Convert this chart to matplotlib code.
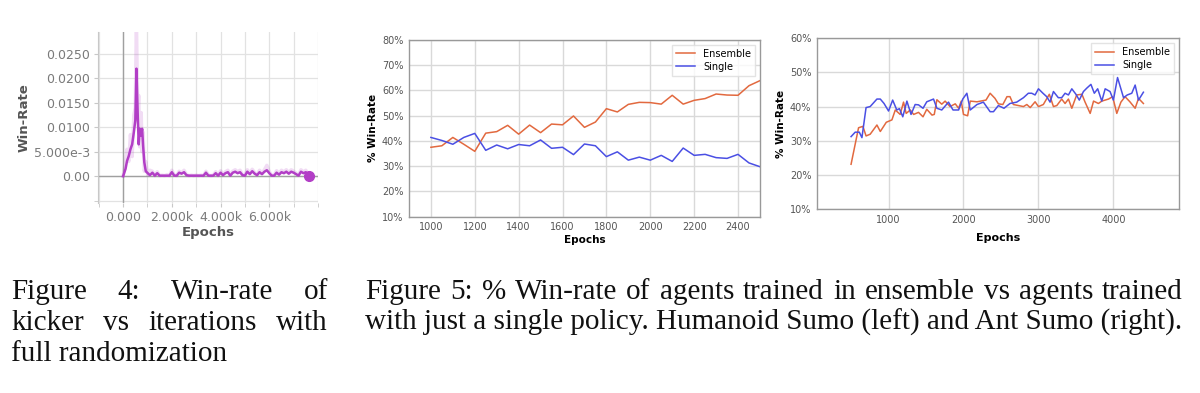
import numpy as np
import matplotlib
matplotlib.use("Agg")
import matplotlib.pyplot as plt
from matplotlib.ticker import FixedLocator, MultipleLocator

# ---- Figure 4: kicker win-rate (tensorboard style) ----
kick_epochs = [0, 100, 160, 230, 300, 370, 440, 500, 546, 600, 640, 680, 740, 780, 820,
               870, 930, 1010, 1100, 1200, 1300, 1400, 1500, 1600, 1700, 1800, 1900,
               2000, 2100, 2200, 2300, 2400, 2500, 2600, 2700, 2800, 2900, 3000, 3100,
               3200, 3300, 3400, 3500, 3600, 3700, 3800, 3900, 4000, 4100, 4200, 4300,
               4400, 4500, 4600, 4700, 4800, 4900, 5000, 5100, 5200, 5300, 5400, 5500,
               5600, 5700, 5800, 5900, 6000, 6100, 6200, 6300, 6400, 6500, 6600, 6700,
               6800, 6900, 7000, 7100, 7200, 7300, 7400, 7500, 7640]
kick_smooth = [0.0, 0.0015, 0.0031, 0.0041, 0.0055, 0.0065, 0.0090, 0.0114, 0.0220, 0.0124,
               0.0065, 0.0097, 0.0083, 0.0097, 0.0062, 0.0028, 0.0010, 0.0006, 0.0002,
               0.0007, 0.0001, 0.0006, 0.0001, 0.0001, 0.0001, 0.0001, 0.0001, 0.0008,
               0.0001, 0.0001, 0.0007, 0.0005, 0.0008, 0.0002, 0.0001, 0.0001, 0.0001,
               0.0001, 0.0001, 0.0001, 0.0001, 0.0007, 0.0001, 0.0001, 0.0001, 0.0006,
               0.0001, 0.0007, 0.0002, 0.0006, 0.0008, 0.0001, 0.0007, 0.0009, 0.0006,
               0.0008, 0.0002, 0.0001, 0.0009, 0.0004, 0.0010, 0.0005, 0.0002, 0.0008,
               0.0004, 0.0009, 0.0012, 0.0006, 0.0001, 0.0001, 0.0007, 0.0003, 0.0008,
               0.0006, 0.0009, 0.0005, 0.0009, 0.0007, 0.0004, 0.0001, 0.0009, 0.0006,
               0.0008, 0.0]
kick_raw = [0.0, 0.0030, 0.0055, 0.0030, 0.0085, 0.0040, 0.0125, 0.0140, 0.0320, 0.0120,
            0.0165, 0.0060, 0.0130, 0.0050, 0.0090, 0.0010, 0.0030, 0.0002, 0.0012,
            0.0010, 0.0001, 0.0009, 0.0001, 0.0002, 0.0001, 0.0003, 0.0001, 0.0012,
            0.0002, 0.0001, 0.0010, 0.0007, 0.0012, 0.0003, 0.0001, 0.0002, 0.0001,
            0.0002, 0.0001, 0.0002, 0.0001, 0.0010, 0.0002, 0.0001, 0.0002, 0.0009,
            0.0001, 0.0011, 0.0003, 0.0009, 0.0012, 0.0002, 0.0010, 0.0013, 0.0009,
            0.0012, 0.0003, 0.0002, 0.0013, 0.0006, 0.0014, 0.0007, 0.0003, 0.0012,
            0.0006, 0.0013, 0.0022, 0.0009, 0.0002, 0.0002, 0.0011, 0.0005, 0.0012,
            0.0009, 0.0013, 0.0007, 0.0013, 0.0010, 0.0006, 0.0002, 0.0013, 0.0009,
            0.0012, 0.0]
kick_yticks = [0.0, 0.005, 0.010, 0.015, 0.020, 0.025]
kick_ylabels = ["0.00", "5.000e-3", "0.0100", "0.0150", "0.0200", "0.0250"]
kick_xticks = [0, 2000, 4000, 6000]
kick_xlabels = ["0.000", "2.000k", "4.000k", "6.000k"]

# ---- Figure 5 left: Humanoid Sumo ----
hum_epochs = list(range(1000, 2501, 50))
hum_ensemble = [37.5, 38.1, 41.4, 38.7, 35.9, 43.1, 43.7, 46.2, 42.7, 46.3, 43.3, 46.7,
                46.4, 49.9, 45.4, 47.5, 52.8, 51.5, 54.5, 55.3, 55.2, 54.6, 58.1, 54.6,
                56.1, 56.8, 58.6, 58.2, 58.1, 61.9, 63.9]
hum_single = [41.4, 40.2, 38.7, 41.4, 43.0, 36.3, 38.4, 36.9, 38.6, 38.1, 40.4, 37.1,
              37.5, 34.6, 38.8, 38.1, 33.8, 35.7, 32.4, 33.6, 32.4, 34.3, 31.9, 37.2,
              34.3, 34.7, 33.4, 33.1, 34.7, 31.3, 29.8]

# ---- Figure 5 right: Ant Sumo ----
ant_ens_epochs = [500, 600, 658, 700, 755, 845, 890, 970, 1045, 1090, 1155, 1200, 1235,
                  1290, 1335, 1400, 1460, 1510, 1580, 1610, 1645, 1710, 1755, 1820, 1890,
                  1935, 1970, 2000, 2055, 2090, 2180, 2300, 2355, 2420, 2465, 2525, 2580,
                  2620, 2665, 2755, 2800, 2845, 2890, 2955, 3000, 3065, 3145, 3200, 3245,
                  3310, 3355, 3400, 3445, 3510, 3580, 3620, 3690, 3735, 3800, 3845, 3935,
                  3990, 4045, 4100, 4155, 4220, 4290, 4335, 4400]
ant_ensemble = [23.1, 33.8, 34.2, 31.4, 31.9, 34.6, 32.7, 35.4, 36.1, 39.0, 37.7, 41.3,
                38.0, 39.0, 37.7, 38.3, 37.0, 39.2, 37.5, 37.7, 42.0, 40.7, 41.6, 40.0,
                40.8, 39.5, 41.6, 37.7, 37.3, 41.6, 41.4, 41.9, 43.9, 42.4, 40.8, 40.6,
                42.9, 42.9, 40.6, 40.2, 40.0, 40.6, 39.7, 41.4, 40.0, 40.6, 43.6, 40.0,
                40.3, 42.2, 40.9, 42.2, 39.5, 43.4, 43.6, 41.4, 38.0, 41.6, 40.9, 41.6,
                42.2, 42.9, 38.0, 41.3, 42.9, 41.4, 39.5, 42.4, 40.9]
ant_sgl_epochs = [500, 555, 610, 645, 700, 755, 845, 890, 940, 1000, 1055, 1110, 1145,
                  1190, 1245, 1300, 1355, 1400, 1460, 1510, 1600, 1645, 1710, 1800, 1860,
                  1935, 1990, 2045, 2090, 2180, 2265, 2355, 2400, 2465, 2540, 2620, 2710,
                  2800, 2865, 2910, 2955, 3000, 3060, 3110, 3155, 3200, 3265, 3310, 3355,
                  3400, 3445, 3500, 3545, 3600, 3645, 3700, 3745, 3790, 3845, 3890, 3955,
                  4000, 4055, 4135, 4185, 4245, 4290, 4335, 4400]
ant_single = [31.2, 32.5, 32.5, 30.9, 39.7, 40.0, 42.2, 42.2, 40.9, 38.7, 41.9, 39.0,
              39.4, 37.0, 41.6, 37.7, 40.6, 40.5, 39.5, 41.4, 42.2, 39.5, 39.0, 41.3,
              39.0, 39.0, 42.2, 43.9, 39.0, 40.6, 41.3, 38.5, 38.5, 40.3, 39.5, 40.9,
              41.3, 42.6, 43.9, 43.9, 43.4, 45.2, 43.9, 42.9, 41.3, 44.4, 42.6, 42.6,
              43.9, 43.4, 45.2, 43.6, 41.9, 44.4, 45.4, 46.5, 43.9, 45.2, 41.6, 45.2,
              44.4, 41.9, 48.5, 42.6, 43.4, 43.9, 46.3, 41.9, 44.2]

ORANGE = "#e2693f"
BLUE = "#4a4fe4"
PURPLE = "#b23ec6"

fig = plt.figure(figsize=(12, 3.93), dpi=100)


def style_pct_axes(ax):
    ax.grid(True, color="#d9d9d9", linewidth=1)
    ax.set_axisbelow(True)
    for s in ax.spines.values():
        s.set_color("#999999")
        s.set_linewidth(1)
    ax.tick_params(colors="#555555", labelsize=7, length=0, pad=4)
    ax.yaxis.set_major_formatter(plt.FuncFormatter(lambda v, p: f"{v:.0f}%"))
    ax.set_ylabel("% Win-Rate", fontsize=7.5, fontweight="bold", labelpad=3)


# Figure 4
ax1 = fig.add_axes([0.0817, 0.4835, 0.1833, 0.435])
ax1.plot(kick_epochs, kick_raw, color=PURPLE, alpha=0.18, linewidth=2.5, zorder=2)
ax1.plot(kick_epochs, kick_smooth, color=PURPLE, linewidth=1.8, zorder=3)
ax1.plot([kick_epochs[-1]], [kick_smooth[-1]], "o", color=PURPLE, markersize=7, zorder=4)
ax1.set_xlim(-1030, 8000)
ax1.set_ylim(-0.0055, 0.0295)
ax1.xaxis.set_major_locator(FixedLocator(kick_xticks))
ax1.set_xticklabels(kick_xlabels)
ax1.xaxis.set_minor_locator(MultipleLocator(1000))
ax1.yaxis.set_major_locator(FixedLocator(kick_yticks))
ax1.set_yticklabels(kick_ylabels)
ax1.yaxis.set_minor_locator(MultipleLocator(0.005))
ax1.grid(True, which="both", color="#e2e2e2", linewidth=0.9)
ax1.set_axisbelow(True)
ax1.axhline(0, color="#a0a0a0", linewidth=1, zorder=1)
ax1.axvline(0, color="#a0a0a0", linewidth=1, zorder=1)
for side in ["top", "right", "bottom"]:
    ax1.spines[side].set_visible(False)
ax1.spines["left"].set_color("#c8c8c8")
ax1.tick_params(which="both", colors="#c8c8c8", labelcolor="#7a7a7a", labelsize=9,
                length=3, pad=3)
ax1.set_ylabel("Win-Rate", fontsize=9.5, fontweight="bold", color="#555555", labelpad=2)
ax1.set_xlabel("Epochs", fontsize=9.5, fontweight="bold", color="#555555", labelpad=1)

# Figure 5 left
ax2 = fig.add_axes([0.3408, 0.4486, 0.2925, 0.4496])
ax2.plot(hum_epochs, hum_ensemble, color=ORANGE, linewidth=1.1, label="Ensemble")
ax2.plot(hum_epochs, hum_single, color=BLUE, linewidth=1.1, label="Single")
ax2.set_xlim(900, 2500)
ax2.set_ylim(10, 80)
ax2.xaxis.set_major_locator(MultipleLocator(200))
ax2.yaxis.set_major_locator(MultipleLocator(10))
style_pct_axes(ax2)
ax2.set_xlabel("Epochs", fontsize=7.5, fontweight="bold", labelpad=2)
ax2.legend(loc="upper right", fontsize=7, frameon=True, fancybox=False, edgecolor="#dddddd",
           handlelength=2, borderpad=0.4, labelspacing=0.3)

# Figure 5 right
ax3 = fig.add_axes([0.6808, 0.4682, 0.3017, 0.4344])
ax3.plot(ant_ens_epochs, ant_ensemble, color=ORANGE, linewidth=1.1, label="Ensemble")
ax3.plot(ant_sgl_epochs, ant_single, color=BLUE, linewidth=1.1, label="Single")
ax3.set_xlim(45, 4875)
ax3.set_ylim(10, 60)
ax3.xaxis.set_major_locator(MultipleLocator(1000))
ax3.yaxis.set_major_locator(MultipleLocator(10))
style_pct_axes(ax3)
ax3.set_xlabel("Epochs", fontsize=8, fontweight="bold", labelpad=6)
ax3.legend(loc="upper right", fontsize=7, frameon=True, fancybox=False, edgecolor="#dddddd",
           handlelength=2, borderpad=0.4, labelspacing=0.3)

# captions
CAP = dict(family="Liberation Serif", fontsize=21, color="#111111", va="baseline")
W, H = 1200.0, 393.0
renderer = fig.canvas.get_renderer()


def justify(words, x0, x1, ybase):
    texts = [fig.text(0, 1 - ybase / H, w, **CAP) for w in words]
    widths = [t.get_window_extent(renderer).width for t in texts]
    gap = (x1 - x0 - sum(widths)) / (len(words) - 1)
    x = x0
    for t, w in zip(texts, widths):
        t.set_x(x / W)
        x += w + gap


justify(["Figure", "4:", "Win-rate", "of"], 11, 328, 299)
justify(["kicker", "vs", "iterations", "with"], 11, 328, 330)
fig.text(11 / W, 1 - 361 / H, "full randomization", **CAP)
justify("Figure 5: % Win-rate of agents trained in ensemble vs agents trained".split(),
        365, 1183, 299)
fig.text(365 / W, 1 - 330 / H,
         "with just a single policy. Humanoid Sumo (left) and Ant Sumo (right).", **CAP)

fig.savefig("out.png", dpi=100)
